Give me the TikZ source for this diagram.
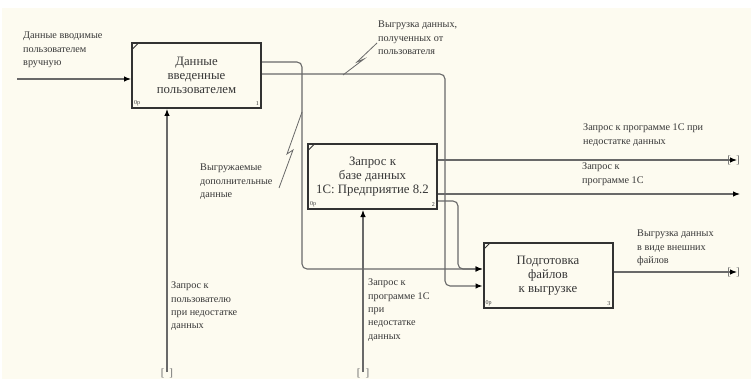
\documentclass[tikz,border=0pt]{standalone}
\usepackage{fontspec}
\setmainfont{Liberation Serif}
\usetikzlibrary{arrows.meta}

\definecolor{cream}{RGB}{253,251,240}
\definecolor{boxline}{RGB}{50,50,50}
\definecolor{wire}{RGB}{105,105,105}
\definecolor{ink}{RGB}{55,55,55}

\begin{document}
\begin{tikzpicture}[x=1pt,y=-1pt,
    func/.style={draw=boxline, line width=2pt, fill=cream, minimum width=129pt,
        minimum height=65pt, align=center, text=ink, inner sep=0pt,
        font=\fontsize{12.8}{14}\selectfont},
    flow/.style={draw=wire, line width=1.1pt, rounded corners=5pt,
        -{Latex[length=7pt,width=5.5pt,black]}},
    bolt/.style={draw=wire, line width=0.8pt},
    lbl/.style={anchor=north west, align=left, inner sep=0pt, text=ink,
        font=\fontsize{10.2}{13.3}\selectfont},
    tag/.style={inner sep=0pt, text=ink, font=\fontsize{6}{6}\selectfont},
    tunnel/.style={inner sep=0pt, text=wire, font=\fontsize{11}{11}\selectfont}]

    % paper
    \fill[white] (0,0) rectangle (751,379);
    \fill[cream] (2,8) rectangle (751,379);

    % functions
    \node[func] (b1) at (196.5,75.5) {Данные\\введенные\\пользователем};
    \node[func] (b2) at (372.5,176.5) {Запрос к\\базе данных\\1С: Предприятие 8.2};
    \node[func] (b3) at (548,275.5) {Подготовка\\файлов\\к выгрузке};

    \foreach \b/\n in {b1/1, b2/2, b3/3} {
        \draw[boxline, line width=0.8pt] ([shift={(1.5pt,-7pt)}]\b.north west) -- ([shift={(7pt,-1.5pt)}]\b.north west);
        \node[tag, anchor=south west] at ([shift={(3pt,3pt)}]\b.south west) {0р};
        \node[tag, anchor=south east] at ([shift={(-3pt,3pt)}]\b.south east) {\n};
    }

    % free ends
    \coordinate (in1) at (17,79);
    \coordinate (c1) at (167,372);
    \coordinate (c2) at (363,372);
    \coordinate (t1) at (737,160);
    \coordinate (t2) at (740,194);
    \coordinate (t3) at (737,272);

    % arrows
    \draw[flow] (in1) -- (in1 -| b1.west);
    \draw[flow] (c1) -- (c1 |- b1.south);
    \draw[flow] (c2) -- (c2 |- b2.south);
    \draw[flow] ([yshift=13.5pt]b1.east) -- ++(40,0) |- ([yshift=6.5pt]b3.west);
    \draw[flow] ([yshift=1.5pt]b1.east) -- ++(183,0) |- ([yshift=-10.5pt]b3.west);
    \draw[flow] ([yshift=-24.5pt]b2.east) -- ++(20,0) |- ([yshift=6.5pt]b3.west);
    \draw[flow] (t1 -| b2.east) -- (t1);
    \draw[flow] (t2 -| b2.east) -- (t2);
    \draw[flow] (t3 -| b3.east) -- (t3);

    % tunnels
    \node[tunnel] at ([yshift=-1pt]c1) {[\hspace{5pt}]};
    \node[tunnel] at ([yshift=-1pt]c2) {[\hspace{5pt}]};
    \node[tunnel] at ([xshift=-3.5pt]t1) {[\hspace{5pt}]};
    \node[tunnel] at ([xshift=-3.5pt]t3) {[\hspace{5pt}]};

    % squiggles
    \draw[bolt] (279,188) -- (293,150) -- (287,154) -- (302,112);
    \draw[bolt] (343,75) -- (364,59) -- (357,62) -- (377,43);

    % labels
    \node[lbl] at (23,32) {Данные вводимые\\пользователем\\вручную};
    \node[lbl] at (378,21) {Выгрузка данных,\\полученных от\\пользователя};
    \node[lbl] at (200,164) {Выгружаемые\\дополнительные\\данные};
    \node[lbl] at (583,124) {Запрос к программе 1С при\\недостатке данных};
    \node[lbl] at (582,163) {Запрос к\\программе 1С};
    \node[lbl] at (637,230) {Выгрузка данных\\в виде внешних\\файлов};
    \node[lbl] at (171,282) {Запрос к\\пользователю\\при недостатке\\данных};
    \node[lbl] at (368,279) {Запрос к\\программе 1С\\при\\недостатке\\данных};
\end{tikzpicture}
\end{document}
